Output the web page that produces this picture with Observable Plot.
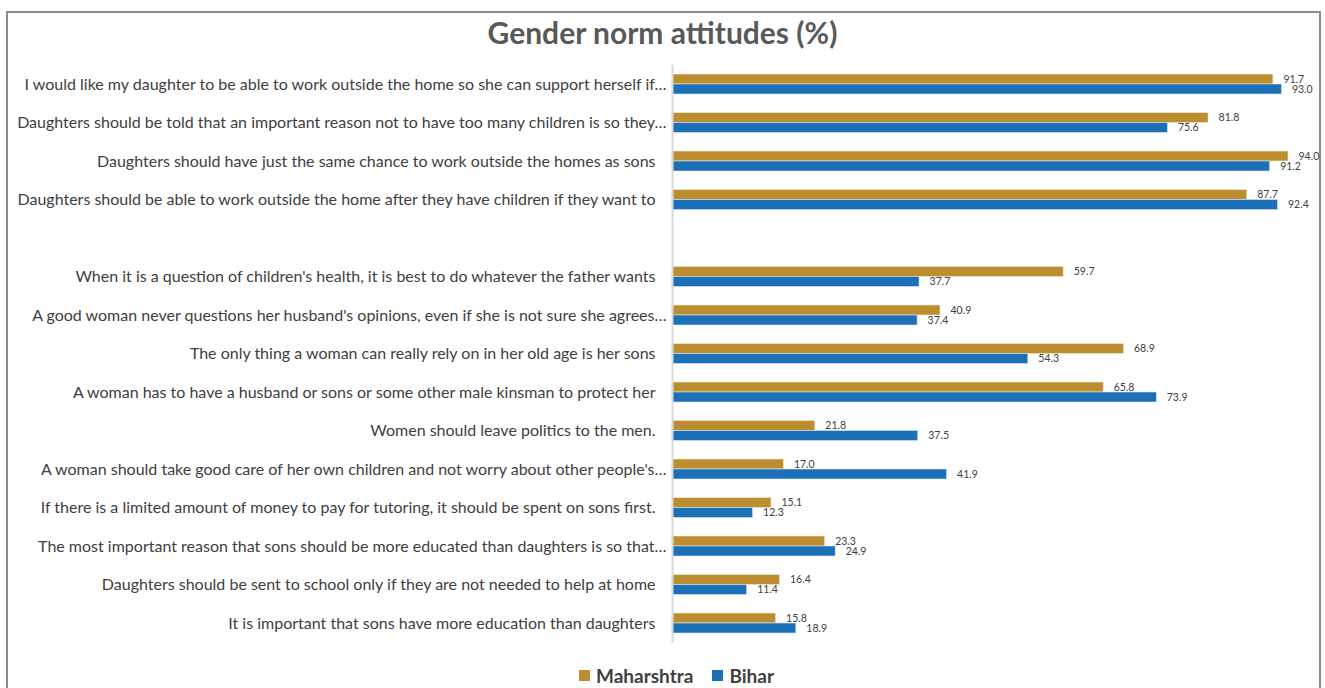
<!DOCTYPE html>
<html>
<head>
<meta charset="utf-8">
<script src="https://cdn.jsdelivr.net/npm/d3@7"></script>
<script src="https://cdn.jsdelivr.net/npm/@observablehq/plot@0.6"></script>
<style>
  body { margin: 0; background: #fff; }
  #wrap { position: relative; width: 1325px; height: 688px; overflow: hidden; font-family: Lato, "Open Sans", sans-serif; }
  #frame { position: absolute; left: 6px; top: 11px; width: 1315px; height: 700px; border: 2px solid #8c8c8c; box-sizing: border-box; }
  #title { position: absolute; left: 0; top: 14px; width: 1325px; height: 36px; line-height: 36px; text-align: center; font-size: 30px; font-weight: bold; color: #595959; }
  #chart { position: absolute; left: 0; top: 60px; line-height: 0; }
  #chart svg { display: block; }
  #legend { position: absolute; left: 579px; top: 663px; height: 24px; display: flex; align-items: center; font-size: 19px; font-weight: bold; color: #404040; }
  .sw { display: inline-block; width: 11px; height: 11px; margin-right: 6px; }
</style>
</head>
<body>
<div id="wrap">
  <div id="frame"></div>
  <div id="title">Gender norm attitudes (%)</div>
  <div id="chart"></div>
  <div id="legend">
    <span class="sw" style="background:#bd8e2f"></span><span>Maharshtra</span>
    <span class="sw" style="background:#1b70b8; margin-left:19px"></span><span>Bihar</span>
  </div>
</div>
<script>
const statementsTop = [
  "I would like my daughter to be able to work outside the home so she can support herself if…",
  "Daughters should be told that an important reason not to have too many children is so they…",
  "Daughters should have just the same chance to work outside the homes as sons",
  "Daughters should be able to work outside the home after they have children if they want to"
];
const statementsBottom = [
  "When it is a question of children's health, it is best to do whatever the father wants",
  "A good woman never questions her husband's opinions, even if she is not sure she agrees…",
  "The only thing a woman can really rely on in her old age is her sons",
  "A woman has to have a husband or sons or some other male kinsman to protect her",
  "Women should leave politics to the men.",
  "A woman should take good care of her own children and not worry about other people's…",
  "If there is a limited amount of money to pay for tutoring, it should be spent on sons first.",
  "The most important reason that sons should be more educated than daughters is so that…",
  "Daughters should be sent to school only if they are not needed to help at home",
  "It is important that sons have more education than daughters"
];
const maharashtraTop = [91.7, 81.8, 94.0, 87.7];
const biharTop = [93.0, 75.6, 91.2, 92.4];
const maharashtraBottom = [59.7, 40.9, 68.9, 65.8, 21.8, 17.0, 15.1, 23.3, 16.4, 15.8];
const biharBottom = [37.7, 37.4, 54.3, 73.9, 37.5, 41.9, 12.3, 24.9, 11.4, 18.9];
const seriesNames = ["Maharshtra", "Bihar"];
const seriesColors = ["#bd8e2f", "#1b70b8"];

const statements = [...statementsTop, ...statementsBottom];
const mah = [...maharashtraTop, ...maharashtraBottom];
const bih = [...biharTop, ...biharBottom];
const domain = [...statementsTop, "", ...statementsBottom];

const rowsM = statements.map((s, i) => ({s, v: mah[i], series: seriesNames[0]}));
const rowsB = statements.map((s, i) => ({s, v: bih[i], series: seriesNames[1]}));
const truncated = statements.filter(s => s.endsWith("…"));
const full = statements.filter(s => !s.endsWith("…"));

const plot = Plot.plot({
  width: 1325,
  height: 590,
  marginLeft: 672,
  marginRight: 10.8,
  marginTop: 4.75,
  marginBottom: 7.75,
  style: {fontFamily: "Lato, 'Open Sans', sans-serif", background: "transparent", overflow: "visible"},
  x: {domain: [0, 98], axis: null},
  y: {domain, type: "band", padding: 0, round: false, axis: null},
  color: {domain: seriesNames, range: seriesColors},
  marks: [
    Plot.barX(rowsM, {y: "s", x: "v", fill: "series", insetTop: 9.25, insetBottom: 19.25, stroke: "#f3ead8", strokeWidth: 0.6}),
    Plot.barX(rowsB, {y: "s", x: "v", fill: "series", insetTop: 19.25, insetBottom: 9.25, stroke: "#d8e6f3", strokeWidth: 0.6}),
    Plot.ruleX([0], {stroke: "#d9d9d9", strokeWidth: 2}),
    Plot.text(rowsM, {y: "s", x: "v", text: d => d.v.toFixed(1), textAnchor: "start", dx: 10, dy: -5, fontSize: 10.5, fill: "#404040"}),
    Plot.text(rowsB, {y: "s", x: "v", text: d => d.v.toFixed(1), textAnchor: "start", dx: 10, dy: 5, fontSize: 10.5, fill: "#404040"}),
    Plot.text(full, {y: d => d, x: 0, text: d => d, textAnchor: "end", dx: -17, fontSize: 16, fill: "#404040"}),
    Plot.text(truncated, {y: d => d, x: 0, text: d => d, textAnchor: "end", dx: -6, fontSize: 16, fill: "#404040"})
  ]
});
document.getElementById("chart").appendChild(plot);
</script>
</body>
</html>
